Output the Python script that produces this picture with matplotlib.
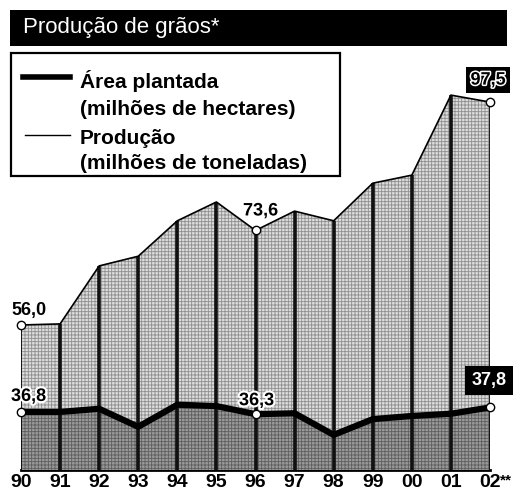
import numpy as np
import matplotlib
matplotlib.use('Agg')
import matplotlib.pyplot as plt
from matplotlib.patches import Rectangle
import matplotlib.patheffects as pe

plt.rcParams['font.family'] = ['Liberation Sans', 'DejaVu Sans']
plt.rcParams['hatch.linewidth'] = 0.6

# data
years = ['90', '91', '92', '93', '94', '95', '96', '97', '98', '99', '00', '01', '02']
producao = [56.0, 56.2, 67.0, 68.8, 75.4, 78.9, 73.6, 77.2, 75.4, 82.4, 83.9, 98.8, 97.5]
area = [36.8, 36.8, 37.5, 33.5, 38.4, 38.1, 36.3, 36.5, 31.7, 35.2, 35.9, 36.4, 37.8]
titulo = 'Produção de grãos*'
leg_area = ['Área plantada', '(milhões de hectares)']
leg_prod = ['Produção', '(milhões de toneladas)']

W, H = 517, 492
fig = plt.figure(figsize=(W / 100, H / 100), dpi=100)

def fx(px):
    return px / W

def fy(py):
    return 1 - py / H

# title bar
fig.patches.append(Rectangle((fx(10), fy(46)), fx(497), 36 / H, transform=fig.transFigure,
                             facecolor='black', edgecolor='none'))
fig.text(fx(23), fy(28), titulo, color='white', fontsize=16, va='center', ha='left')

x = np.arange(len(years))

ax = fig.add_axes([fx(21), fy(470), fx(469), (470 - 50) / H])
ax.set_xlim(0, len(years) - 1)
ax.set_ylim(29.0, 107.2)
ax2 = ax.twinx()
ax2.set_ylim(23.9, 117.2)
ax2.patch.set_visible(False)

# production area (light dotted)
ax.fill_between(x, ax.get_ylim()[0], producao, facecolor='#dcdcdc', edgecolor='#8e8e8e',
                linewidth=0, hatch='+++++', zorder=1)
ax.vlines(x[1:-1], ax.get_ylim()[0], producao[1:-1], colors='#111111', lw=2.6, zorder=2)
ax.vlines([x[0], x[-1]], ax.get_ylim()[0], [producao[0], producao[-1]], colors='black', lw=1.2, zorder=2)
ax.plot(x, producao, color='black', lw=1.2, zorder=3)

# planted area (dark)
ax2.fill_between(x, ax2.get_ylim()[0], area, facecolor='#9a9a9a', edgecolor='#5e5e5e',
                 linewidth=0, hatch='+++++', zorder=1)
ax2.vlines(x[1:-1], ax2.get_ylim()[0], area[1:-1], colors='#111111', lw=2.6, zorder=2)
ax2.vlines([x[0], x[-1]], ax2.get_ylim()[0], [area[0], area[-1]], colors='black', lw=1.2, zorder=2)
ax2.plot(x, area, color='black', lw=4.5, solid_joinstyle='miter', zorder=3)

for i in [0, 6, 12]:
    ax.plot(x[i], producao[i], 'o', ms=6, mfc='white', mec='black', mew=1, zorder=5, clip_on=False)
    ax2.plot(x[i], area[i], 'o', ms=6, mfc='white', mec='black', mew=1, zorder=5, clip_on=False)

def fmt(v):
    return ('%.1f' % v).replace('.', ',')

halo = [pe.withStroke(linewidth=3, foreground='white')]
lab = dict(fontsize=13, fontweight='bold', textcoords='offset pixels', va='baseline',
           annotation_clip=False, zorder=8)
ax.annotate(fmt(producao[0]), (x[0], producao[0]), xytext=(-10, 10), ha='left', **lab)
ax2.annotate(fmt(area[0]), (x[0], area[0]), xytext=(-10, 11), ha='left', **lab).set_path_effects(halo)
ax.annotate(fmt(producao[6]), (x[6], producao[6]), xytext=(5, 15), ha='center', **lab).set_path_effects(halo)
ax2.annotate(fmt(area[6]), (x[6], area[6]), xytext=(1, 9), ha='center', **lab).set_path_effects(halo)

t = ax.annotate(fmt(producao[-1]), (x[-1], producao[-1]), xytext=(-2, 22), ha='center', va='center',
                textcoords='offset pixels', fontsize=13, fontweight='bold', color='black',
                annotation_clip=False,
                bbox=dict(boxstyle='square,pad=0.25', facecolor='black', edgecolor='none'))
t.set_path_effects([pe.withStroke(linewidth=2.2, foreground='white')])
ax2.annotate(fmt(area[-1]), (x[-1], area[-1]), xytext=(-1, 27), ha='center', va='center',
             textcoords='offset pixels', fontsize=13, fontweight='bold', color='white',
             annotation_clip=False,
             bbox=dict(boxstyle='square,pad=0.35', facecolor='black', edgecolor='none'))

# axes styling
for a in (ax, ax2):
    for s in a.spines.values():
        s.set_visible(False)
    a.set_yticks([])
ax.spines['bottom'].set_visible(True)
ax.spines['bottom'].set_linewidth(2)
ax.set_xticks(x)
ax.set_xticklabels(years, fontsize=14, fontweight='bold')
ax.tick_params(axis='x', length=0, pad=3)
ax.annotate('**', (x[-1], ax.get_ylim()[0]), xytext=(10, -10), textcoords='offset pixels',
            fontsize=11, fontweight='bold', ha='left', va='center', annotation_clip=False)

# legend box
fig.patches.append(Rectangle((fx(11), fy(176)), fx(329), (176 - 53) / H, transform=fig.transFigure,
                             facecolor='white', edgecolor='black', lw=1.6, zorder=10))
fig.lines.append(plt.Line2D([fx(23), fx(70)], [fy(77), fy(77)], transform=fig.transFigure,
                            color='black', lw=4, zorder=11))
fig.lines.append(plt.Line2D([fx(25), fx(70)], [fy(135), fy(135)], transform=fig.transFigure,
                            color='black', lw=1, zorder=11))
for txt, py in zip(leg_area + leg_prod, [88, 115, 144, 169]):
    fig.text(fx(80), fy(py), txt, fontsize=15, fontweight='bold', ha='left', va='baseline', zorder=12)

fig.savefig('out.png', dpi=100)
